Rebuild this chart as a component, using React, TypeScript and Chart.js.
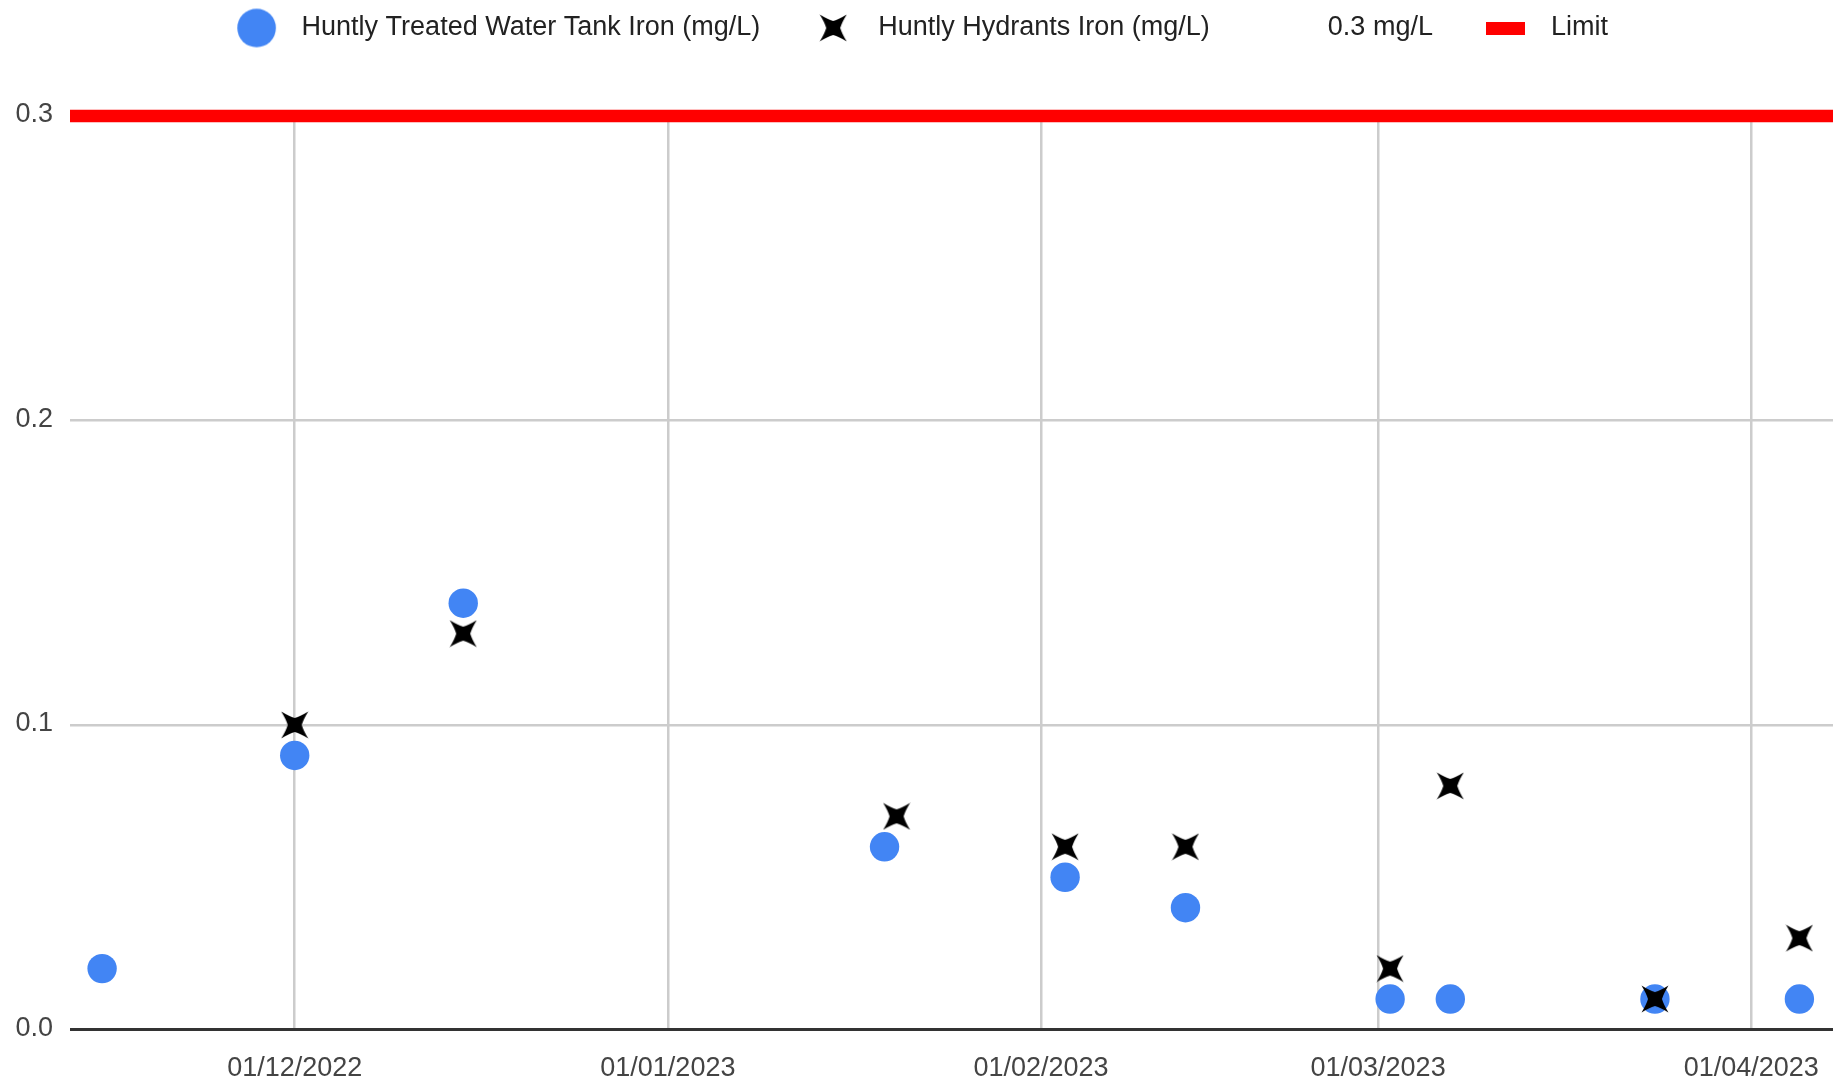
import React, { useEffect, useRef } from "react";
import { Chart, registerables } from "chart.js";

Chart.register(...registerables);

// ---- Data ----
const treatedDates = ["2022-11-15", "2022-12-01", "2022-12-15", "2023-01-19", "2023-02-03", "2023-02-13", "2023-03-02", "2023-03-07", "2023-03-24", "2023-04-05"];
const treatedIron = [0.02, 0.09, 0.14, 0.06, 0.05, 0.04, 0.01, 0.01, 0.01, 0.01];

const hydrantDates = ["2022-12-01", "2022-12-15", "2023-01-20", "2023-02-03", "2023-02-13", "2023-03-02", "2023-03-07", "2023-03-24", "2023-04-05"];
const hydrantIron = [0.1, 0.13, 0.07, 0.06, 0.06, 0.02, 0.08, 0.01, 0.03];

const limitValue = 0.3;

const xTickDates = ["2022-12-01", "2023-01-01", "2023-02-01", "2023-03-01", "2023-04-01"];
const xAxisStart = "2022-11-12T08:00:00Z";
const xAxisEnd = "2023-04-07T19:00:00Z";

const yTicks = [0, 0.1, 0.2, 0.3];

const seriesLabels = ["Huntly Treated Water Tank Iron (mg/L)", "Huntly Hydrants Iron (mg/L)", "0.3 mg/L", "Limit"];

// ---- helpers ----
const DAY = 86400000;
const toDay = (s: string) => Date.parse(s.length === 10 ? s + "T00:00:00Z" : s) / DAY;
const fmtDay = (v: number) => {
  const d = new Date(Math.round(v * DAY));
  const dd = String(d.getUTCDate()).padStart(2, "0");
  const mm = String(d.getUTCMonth() + 1).padStart(2, "0");
  return `${dd}/${mm}/${d.getUTCFullYear()}`;
};

const FONT = "'Liberation Sans', Arial, sans-serif";
const FONT_SIZE = 27;
const BLUE = "#4285F4";
const RED = "#FF0000";

function makeCanvas(w: number, h: number, draw: (ctx: CanvasRenderingContext2D) => void) {
  const c = document.createElement("canvas");
  c.width = w;
  c.height = h;
  const ctx = c.getContext("2d")!;
  draw(ctx);
  return c;
}

// four-pointed star with tips on the diagonals (Google "X" marker look)
function makeStar(size: number) {
  return makeCanvas(size, size, (ctx) => {
    const m = size / 2;
    const a = size / 2 - 0.5; // tip offset along each axis
    const r = 7; // inner vertex distance
    const tips = [
      [m + a, m - a],
      [m + a, m + a],
      [m - a, m + a],
      [m - a, m - a],
    ];
    const inner = [
      [m + r, m],
      [m, m + r],
      [m - r, m],
      [m, m - r],
    ];
    const ctrl = (p: number[], q: number[]) => {
      const mx = (p[0] + q[0]) / 2;
      const my = (p[1] + q[1]) / 2;
      return [m + (mx - m) * 0.85, m + (my - m) * 0.85];
    };
    ctx.fillStyle = "#000";
    ctx.beginPath();
    ctx.moveTo(tips[0][0], tips[0][1]);
    for (let i = 0; i < 4; i++) {
      const t = tips[i];
      const n = inner[i];
      const t2 = tips[(i + 1) % 4];
      const c1 = ctrl(t, n);
      ctx.quadraticCurveTo(c1[0], c1[1], n[0], n[1]);
      const c2 = ctrl(n, t2);
      ctx.quadraticCurveTo(c2[0], c2[1], t2[0], t2[1]);
    }
    ctx.closePath();
    ctx.fill();
  });
}

function makeCircle(r: number) {
  const s = Math.ceil(r * 2 + 2);
  return makeCanvas(s, s, (ctx) => {
    ctx.fillStyle = BLUE;
    ctx.beginPath();
    ctx.arc(s / 2, s / 2, r, 0, Math.PI * 2);
    ctx.fill();
  });
}

function makeRect(w: number, h: number) {
  return makeCanvas(w, h, (ctx) => {
    ctx.fillStyle = RED;
    ctx.fillRect(0, 0, w, h);
  });
}

export default function App() {
  const ref = useRef<HTMLCanvasElement | null>(null);

  useEffect(() => {
    if (!ref.current) return;
    const star = makeStar(28);
    const legendCircle = makeCircle(19.3);
    const legendRect = makeRect(39, 13);
    const blank = makeCanvas(2, 2, () => {});

    const xMin = toDay(xAxisStart);
    const xMax = toDay(xAxisEnd);
    const tickValues = xTickDates.map(toDay);

    const legendImages = [legendCircle, star, blank, legendRect];

    const chart = new Chart(ref.current, {
      type: "scatter",
      data: {
        datasets: [
          {
            label: seriesLabels[0],
            data: treatedDates.map((d, i) => ({ x: toDay(d), y: treatedIron[i] })),
            backgroundColor: BLUE,
            borderWidth: 0,
            pointRadius: 14.7,
            pointHoverRadius: 14.7,
            order: 2,
          },
          {
            label: seriesLabels[1],
            data: hydrantDates.map((d, i) => ({ x: toDay(d), y: hydrantIron[i] })),
            pointStyle: star,
            backgroundColor: "#000",
            borderWidth: 0,
            order: 1,
          },
          {
            label: seriesLabels[2],
            data: [],
            pointRadius: 0,
            order: 4,
          },
          {
            type: "line",
            label: seriesLabels[3],
            data: [
              { x: xMin, y: limitValue },
              { x: xMax, y: limitValue },
            ],
            borderColor: RED,
            borderWidth: 12.5,
            pointRadius: 0,
            pointHoverRadius: 0,
            showLine: true,
            clip: false,
            order: 3,
          } as any,
        ],
      },
      options: {
        animation: false,
        responsive: false,
        events: [],
        layout: { autoPadding: false, padding: { top: -27, left: 0, right: 5, bottom: 0 } },
        plugins: {
          tooltip: { enabled: false },
          title: {
            display: true,
            text: "",
            weight: 500,
            padding: { top: 52.5, bottom: 0 },
            font: { size: 10 },
          } as any,
          legend: {
            position: "top",
            align: "center",
            labels: {
              usePointStyle: true,
              pointStyleWidth: 63,
              padding: 41.5,
              color: "#222",
              font: { family: FONT, size: FONT_SIZE },
              generateLabels: () =>
                seriesLabels.map((text, i) => ({
                  text,
                  pointStyle: legendImages[i] as any,
                  fillStyle: "transparent",
                  strokeStyle: "transparent",
                  lineWidth: 0,
                  hidden: false,
                  datasetIndex: i,
                  fontColor: "#222",
                })),
            },
          },
        },
        scales: {
          x: {
            type: "linear",
            min: xMin,
            max: xMax,
            afterBuildTicks: (scale: any) => {
              scale.ticks = tickValues.map((value) => ({ value }));
            },
            afterFit: (scale: any) => {
              scale.height = 56.5;
              scale.paddingLeft = 0;
              scale.paddingRight = 0;
            },
            ticks: {
              autoSkip: false,
              maxRotation: 0,
              padding: 23,
              color: "#444",
              font: { family: FONT, size: FONT_SIZE },
              callback: (v: any) => fmtDay(Number(v)),
            },
            grid: { color: "#cccccc", lineWidth: 2.5, drawTicks: false },
            border: { display: false },
          },
          y: {
            type: "linear",
            min: 0,
            max: 0.3,
            afterBuildTicks: (scale: any) => {
              scale.ticks = yTicks.map((value) => ({ value }));
            },
            afterFit: (scale: any) => {
              scale.width = 70;
            },
            ticks: {
              padding: 17,
              color: "#444",
              labelOffset: -1,
              font: { family: FONT, size: FONT_SIZE },
              callback: (v: any) => Number(v).toFixed(1),
            },
            grid: {
              color: (c: any) => (c.tick && c.tick.value === 0 ? "#333333" : "#cccccc"),
              lineWidth: (c: any) => (c.tick && c.tick.value === 0 ? 3 : 2.5),
              drawTicks: false,
            },
            border: { display: false },
          },
        },
      },
    });
    return () => chart.destroy();
  }, []);

  return (
    <canvas
      ref={ref}
      width={1838}
      height={1086}
      style={{ position: "fixed", left: 0, top: 0, display: "block", background: "#fff" }}
    />
  );
}
